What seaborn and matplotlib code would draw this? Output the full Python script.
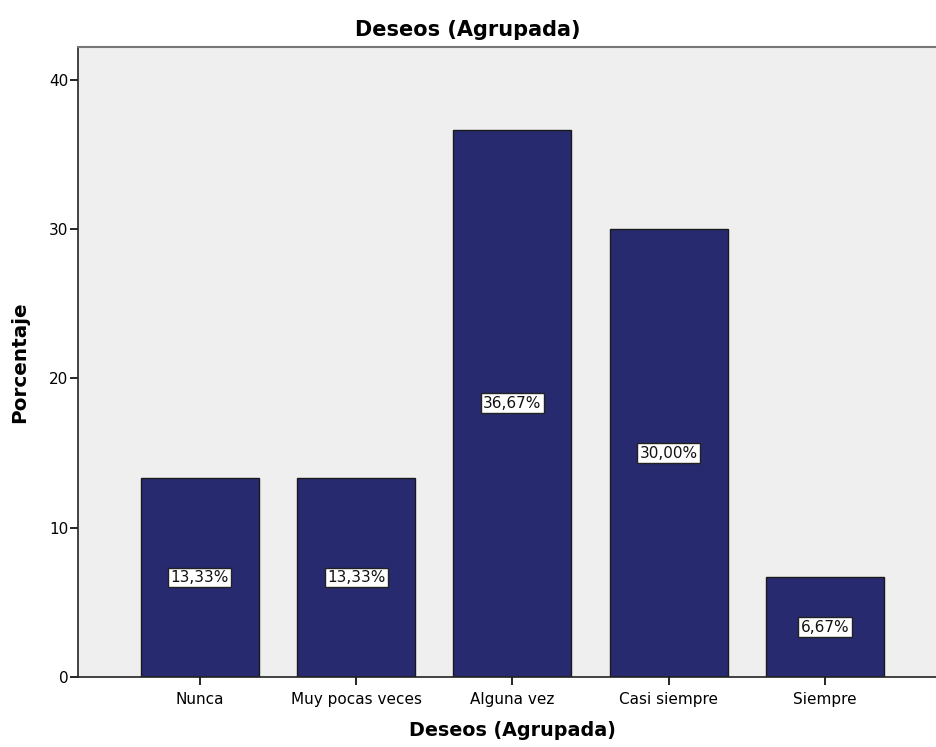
import matplotlib
matplotlib.use("Agg")
import matplotlib.pyplot as plt
import seaborn as sns
import pandas as pd

categories = ["Nunca", "Muy pocas veces", "Alguna vez", "Casi siempre", "Siempre"]
percentages = [13.33, 13.33, 36.67, 30.00, 6.67]
y_ticks = [0, 10, 20, 30, 40]

df = pd.DataFrame({"categoria": categories, "porcentaje": percentages})

sns.set_theme(style="white")
plt.rcParams["font.family"] = ["DejaVu Sans"]
plt.rcParams["text.color"] = "black"
plt.rcParams["axes.labelcolor"] = "black"
plt.rcParams["xtick.color"] = "black"
plt.rcParams["ytick.color"] = "black"

fig = plt.figure(figsize=(9.36, 7.47), dpi=100)
ax = fig.add_axes([0.0833, 0.0937, 0.9284, 0.8434])
ax.set_facecolor("#EFEFEF")

sns.barplot(data=df, x="categoria", y="porcentaje", order=categories,
            color="#282A70", saturation=1, width=0.755,
            edgecolor="#1A1A1A", linewidth=1.0, ax=ax)

ax.set_xlim(-0.78, 4.78)
ax.set_ylim(0, 42.2)
ax.set_yticks(y_ticks)
ax.set_yticklabels([str(t) for t in y_ticks], fontsize=11)
ax.tick_params(axis="x", length=6, width=1.2, labelsize=11, pad=5, direction="out", bottom=True)
ax.tick_params(axis="y", length=6, width=1.2, labelsize=11, pad=1, direction="out", left=True)

for side in ["left", "bottom"]:
    ax.spines[side].set_color("#222222")
    ax.spines[side].set_linewidth(1.2)
ax.spines["top"].set_color("#777777")
ax.spines["top"].set_linewidth(1.5)
ax.spines["right"].set_visible(False)

for i, v in enumerate(percentages):
    ax.text(i, v / 2, f"{v:.2f}".replace(".", ",") + "%", ha="center", va="center",
            fontsize=11, color="#111111",
            bbox=dict(boxstyle="square,pad=0.15", facecolor="white", edgecolor="#222222", linewidth=1))

# Title is centred on the whole figure width
fig.text(0.5, 1 - 30 / 747, "Deseos (Agrupada)", ha="center", va="center",
         fontsize=15, fontweight="bold")
ax.set_xlabel("Deseos (Agrupada)", fontsize=13.8, fontweight="bold", labelpad=10)
ax.set_ylabel("Porcentaje", fontsize=14.4, fontweight="bold", labelpad=14)

fig.savefig("out.png", dpi=100, facecolor="white")
